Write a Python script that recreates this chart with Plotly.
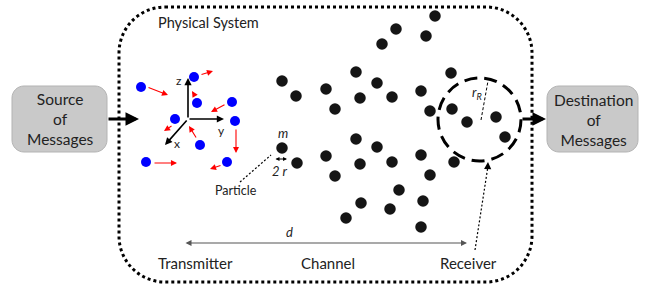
import plotly.graph_objects as go

# ---- data (pixel-space diagram coordinates, y grows downward) ----
channel_x = [435, 396, 426, 382, 282, 296, 356, 377, 326, 360, 392, 421, 335, 430, 451, 452,
             467, 496, 505, 454, 282, 297, 326, 356, 377, 335, 360, 392, 421, 430, 399, 361,
             390, 423, 346, 421]
channel_y = [16, 29, 36, 44, 81, 96, 72, 83, 89, 98, 97, 91, 109, 111, 73, 109,
             122, 117, 137, 162, 148, 163, 156, 139, 147, 176, 164, 162, 155, 175, 190, 203,
             209, 201, 218, 227]

blue_x = [141, 194, 197, 232, 175, 235, 200, 146, 227]
blue_y = [87, 77, 103, 102, 119, 121, 145, 162, 162]

vel_x0 = [147, 200, 195, 226, 173, 236, 197, 153, 222]
vel_y0 = [87, 75, 96, 104, 125, 128, 139, 163, 165]
vel_x1 = [168, 213, 192, 211, 164, 236, 189, 177, 210]
vel_y1 = [95, 71, 91, 112, 131, 153, 126, 163, 169]

axis_origin = (188, 119)
axis_ends = {"z": (188, 78), "y": (224, 119), "x": (165, 145)}
axis_label_pos = {"z": (179, 80), "y": (221, 130), "x": (177, 143)}

stage_labels = ["Transmitter", "Channel", "Receiver"]
stage_x = [195, 328, 468]
stage_y = 263

W, H = 645, 288

fig = go.Figure()


def rounded_path(x0, y0, x1, y1, r):
    k = 0.5523 * r
    return (f"M {x0+r},{y0} L {x1-r},{y0} "
            f"C {x1-r+k},{y0} {x1},{y0+r-k} {x1},{y0+r} "
            f"L {x1},{y1-r} "
            f"C {x1},{y1-r+k} {x1-r+k},{y1} {x1-r},{y1} "
            f"L {x0+r},{y1} "
            f"C {x0+r-k},{y1} {x0},{y1-r+k} {x0},{y1-r} "
            f"L {x0},{y0+r} "
            f"C {x0},{y0+r-k} {x0+r-k},{y0} {x0+r},{y0} Z")


shapes = []
# physical system dotted rounded rectangle
shapes.append(dict(type="path", path=rounded_path(119, 7, 532, 282, 46),
                   line=dict(color="black", width=3, dash="3px,3px"), layer="below"))
# source & destination boxes
for (bx0, bx1) in [(12, 107), (547, 638)]:
    shapes.append(dict(type="path", path=rounded_path(bx0, 86, bx1, 152, 12),
                       fillcolor="#c9c9c9", line=dict(color="#b3b3b3", width=1), layer="below"))
# receiver circle
shapes.append(dict(type="circle", x0=438, x1=521, y0=78, y1=161, xref="x", yref="y",
                   line=dict(color="black", width=3, dash="13px,7px")))
# r_R dashed radius
shapes.append(dict(type="line", x0=481, y0=120, x1=488, y1=81,
                   line=dict(color="black", width=1, dash="3px,2px")))
# dotted pointer lines
shapes.append(dict(type="line", x0=475, y0=250, x1=488, y1=166,
                   line=dict(color="black", width=1.2, dash="2px,2px")))
shapes.append(dict(type="line", x0=240, y0=182, x1=271, y1=155,
                   line=dict(color="black", width=1.2, dash="2px,2px")))

fig.update_layout(shapes=shapes)

# particles in channel / receiver
fig.add_trace(go.Scatter(x=channel_x, y=channel_y, mode="markers",
                         marker=dict(size=11.5, color="#151515", line=dict(width=0)),
                         hoverinfo="skip", showlegend=False))
# transmitter blue molecules
fig.add_trace(go.Scatter(x=blue_x, y=blue_y, mode="markers",
                         marker=dict(size=10, color="#0000ff", line=dict(width=0)),
                         hoverinfo="skip", showlegend=False))

ann = []


def arrow(x0, y0, x1, y1, color="black", width=1, head=2, size=1.0, side="end"):
    ann.append(dict(x=x1, y=y1, ax=x0, ay=y0, xref="x", yref="y", axref="x", ayref="y",
                    text="", showarrow=True, arrowhead=head, arrowsize=size,
                    arrowwidth=width, arrowcolor=color, standoff=0, startstandoff=0,
                    arrowside=side, startarrowhead=head, startarrowsize=size))


# velocity arrows
for a, b, c, d in zip(vel_x0, vel_y0, vel_x1, vel_y1):
    arrow(a, b, c, d, color="#ff0000", width=1.1, head=2, size=1.1)

# coordinate axes
for key, (ex, ey) in axis_ends.items():
    arrow(axis_origin[0], axis_origin[1], ex, ey, color="black", width=1.6, head=2, size=0.9)
for key, (lx, ly) in axis_label_pos.items():
    ann.append(dict(x=lx, y=ly, xref="x", yref="y", text=key, showarrow=False,
                    font=dict(family="Lato, sans-serif", size=12, color="#222")))

# big flow arrows
arrow(107, 119, 139, 119, width=3, head=2, size=0.9)
arrow(521, 119, 546, 119, width=3, head=2, size=0.9)

# dotted pointer arrowheads
arrow(272, 154, 274, 152, width=1.2, head=2, size=1.2)
arrow(487.7, 168, 488, 162, width=1.2, head=2, size=1.2)

# distance d and 2r double arrows
arrow(184, 243, 467, 243, color="#555", width=1.2, head=2, size=1.0, side="end+start")
arrow(274, 159, 287, 159, color="black", width=1, head=2, size=0.8, side="end+start")

font_box = dict(family="Lato, sans-serif", size=15.5, color="#222")
ann.append(dict(x=60, y=119, xref="x", yref="y", text="Source<br>of<br>Messages",
                showarrow=False, font=font_box, align="center"))
ann.append(dict(x=593, y=120, xref="x", yref="y", text="Destination<br>of<br>Messages",
                showarrow=False, font=font_box, align="center"))
ann.append(dict(x=208, y=22, xref="x", yref="y", text="Physical System",
                showarrow=False, font=dict(family="Lato, sans-serif", size=14.5, color="#222")))
for t, sx in zip(stage_labels, stage_x):
    ann.append(dict(x=sx, y=stage_y, xref="x", yref="y", text=t, showarrow=False,
                    font=dict(family="Lato, sans-serif", size=15, color="#222")))
ann.append(dict(x=289, y=232, xref="x", yref="y", text="<i>d</i>", showarrow=False,
                font=dict(family="Lato, sans-serif", size=13, color="#222")))
ann.append(dict(x=283, y=133, xref="x", yref="y", text="<i>m</i>", showarrow=False,
                font=dict(family="Lato, sans-serif", size=13, color="#222")))
ann.append(dict(x=280, y=171, xref="x", yref="y", text="<i>2 r</i>", showarrow=False,
                font=dict(family="Lato, sans-serif", size=13, color="#222")))
ann.append(dict(x=477, y=93, xref="x", yref="y", text="<i>r<sub>R</sub></i>", showarrow=False,
                font=dict(family="Lato, sans-serif", size=13, color="#222")))
ann.append(dict(x=236, y=190, xref="x", yref="y", text="Particle", showarrow=False,
                font=dict(family="Lato, sans-serif", size=12.5, color="#222")))

fig.update_layout(
    annotations=ann,
    width=W, height=H,
    margin=dict(l=0, r=0, t=0, b=0),
    paper_bgcolor="white", plot_bgcolor="white",
    xaxis=dict(range=[0, W], visible=False, fixedrange=True),
    yaxis=dict(range=[H, 0], visible=False, fixedrange=True),
    showlegend=False,
)

fig.write_html("out.html", config={"displayModeBar": False},
               post_script="document.body.style.margin='0px';document.body.style.overflow='hidden';")
